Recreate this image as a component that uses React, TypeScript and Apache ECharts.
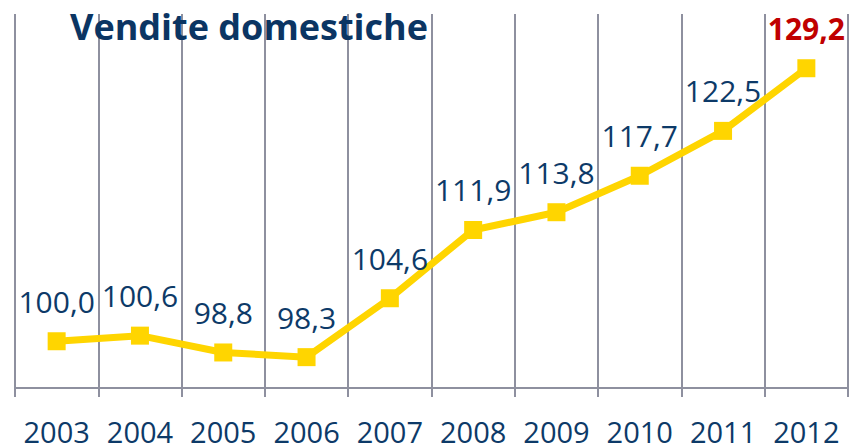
import React, { useEffect, useRef } from "react";
import * as echarts from "echarts";

const categories = ["2003", "2004", "2005", "2006", "2007", "2008", "2009", "2010", "2011", "2012"];
const values = [100.0, 100.6, 98.8, 98.3, 104.6, 111.9, 113.8, 117.7, 122.5, 129.2];
const titleText = "Vendite domestiche";

const fmt = (v: number) => v.toFixed(1).replace(".", ",");

export default function App() {
  const ref = useRef<HTMLDivElement>(null);
  useEffect(() => {
    document.body.style.margin = "0";
    const chart = echarts.init(ref.current!, null, { renderer: "svg" });
    const font = "'Open Sans', 'DejaVu Sans', sans-serif";
    const last = values.length - 1;
    chart.setOption({
      animation: false,
      backgroundColor: "#ffffff",
      title: {
        text: titleText,
        left: 65,
        top: 3,
        textStyle: { fontFamily: font, fontWeight: "bold", fontSize: 36, color: "#0b3563" },
      },
      grid: { left: 15, right: 4, top: 14, bottom: 60, containLabel: false },
      xAxis: {
        type: "category",
        data: categories,
        boundaryGap: true,
        axisLine: { show: true, lineStyle: { color: "#8e909f", width: 2 } },
        axisTick: { show: true, interval: 0, length: 9, lineStyle: { color: "#8e909f", width: 2 } },
        splitLine: { show: true, interval: 0, lineStyle: { color: "#8e909f", width: 2 } },
        axisLabel: { interval: 0, fontFamily: font, fontSize: 29, color: "#0d3a68", margin: 29 },
      },
      yAxis: {
        type: "value",
        min: 95,
        max: 135,
        axisLine: { show: false },
        axisTick: { show: false },
        axisLabel: { show: false },
        splitLine: { show: false },
      },
      series: [
        {
          type: "line",
          data: values.map((v, i) =>
            i === last
              ? { value: v, label: { color: "#c00000", fontWeight: "bold" } }
              : v
          ),
          symbol: "rect",
          symbolSize: 18,
          lineStyle: { color: "#ffd500", width: 7 },
          itemStyle: { color: "#ffd500" },
          label: {
            show: true,
            position: "top",
            distance: 16,
            fontFamily: font,
            fontSize: 30,
            color: "#0d3a68",
            formatter: (p: any) => fmt(p.value),
          },
        },
      ],
    });
    return () => chart.dispose();
  }, []);
  return <div ref={ref} style={{ width: 852, height: 448 }} />;
}
